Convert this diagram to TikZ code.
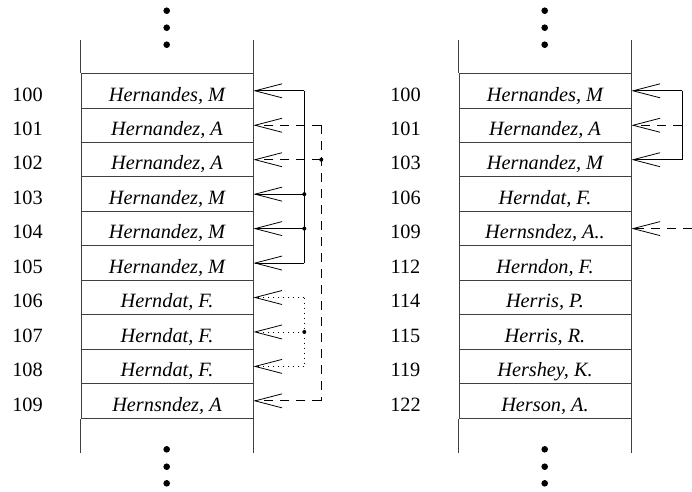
\documentclass[tikz,border=0pt]{standalone}
\usepackage{fontspec}
\setmainfont{Liberation Serif}
\usetikzlibrary{arrows.meta}
\begin{document}
\begin{tikzpicture}[x=1pt,y=-1pt,
  cell/.style={draw=black!75, line width=0.9pt, minimum width=172pt, minimum height=34.45pt,
    inner sep=0pt, text height=20.4pt, text depth=0pt, font=\fontsize{20.3}{24}\selectfont\itshape},
  num/.style={inner sep=0pt, text height=20.4pt, text depth=0pt, font=\fontsize{20.3}{24}\selectfont},
  frame/.style={draw=black!75, line width=0.9pt},
  link/.style={line width=0.8pt},
  dashlink/.style={link, dash pattern=on 9pt off 7pt},
  dotlink/.style={link, dash pattern=on 1pt off 4pt},
  barb/.style={-{Straight Barb[length=27pt,width=14pt,line width=0.8pt]}},
  junction/.style={fill=black}]
\useasboundingbox (0,0) rectangle (692,491);

% left file: record cells and their numbers
\foreach \t [count=\i from 0] in {{Hernandes, M},{Hernandez, A},{Hernandez, A},{Hernandez, M},
    {Hernandez, M},{Hernandez, M},{Herndat, F.},{Herndat, F.},{Herndat, F.},{Hernsndez, A}}
  \node[cell] (L\i) at (167, 90.8+34.45*\i) {\t};
\foreach \n [count=\i from 0] in {100,101,102,103,104,105,106,107,108,109}
  \node[num] (LN\i) at (27.5, 90.8+34.45*\i) {\n};

% right file: record cells and their numbers
\foreach \t [count=\i from 0] in {{Hernandes, M},{Hernandez, A},{Hernandez, M},{Herndat, F.},
    {Hernsndez, A..},{Herndon, F.},{Herris, P.},{Herris, R.},{Hershey, K.},{Herson, A.}}
  \node[cell] (R\i) at (545, 90.8+34.45*\i) {\t};
\foreach \n [count=\i from 0] in {100,101,103,106,109,112,114,115,119,122}
  \node[num] (RN\i) at (405.5, 90.8+34.45*\i) {\n};

% open ends of both files
\coordinate (top) at (0,40);
\coordinate (bot) at (0,452.7);
\foreach \f in {L,R} {
  \draw[frame] (\f0.north west) -- (\f0.north west |- top);
  \draw[frame] (\f0.north east) -- (\f0.north east |- top);
  \draw[frame] (\f9.south west) -- (\f9.south west |- bot);
  \draw[frame] (\f9.south east) -- (\f9.south east |- bot);
}

% continuation dots
\foreach \x in {166.7, 544.7} {
  \foreach \y in {10.7, 27.7, 44.7, 449.3, 466.7, 483.3}
    \fill (\x,\y) circle (3.3pt);
}

% bracket columns
\coordinate (sx) at (304.3,0);
\coordinate (dx) at (321.3,0);
\coordinate (rx) at (682,0);
\coordinate (edge) at (692,0);

% left: solid group
\draw[link] (L0.east -| sx) -- (L5.east -| sx);
\foreach \i in {0,3,4,5}
  \draw[link,barb] (L\i.east -| sx) -- (L\i.east);
\fill[junction] (L3.east -| sx) circle (2pt);
\fill[junction] (L4.east -| sx) circle (2pt);

% left: dashed group
\draw[dashlink] (L1.east -| dx) -- (L9.east -| dx);
\foreach \i in {1,2,9}
  \draw[dashlink,barb] (L\i.east -| dx) -- (L\i.east);
\fill[junction] (L2.east -| dx) circle (2pt);

% left: dotted group
\draw[dotlink] (L6.east -| sx) -- (L8.east -| sx);
\foreach \i in {6,7,8}
  \draw[dotlink,barb] (L\i.east -| sx) -- (L\i.east);
\fill[junction] (L7.east -| sx) circle (2pt);

% right file links
\draw[link] (R0.east -| rx) -- (R2.east -| rx);
\draw[link,barb] (R0.east -| rx) -- (R0.east);
\draw[link,barb] (R2.east -| rx) -- (R2.east);
\draw[dashlink,barb] (R1.east -| rx) -- (R1.east);
\draw[dashlink,barb] (R4.east -| edge) -- (R4.east);
\end{tikzpicture}
\end{document}
